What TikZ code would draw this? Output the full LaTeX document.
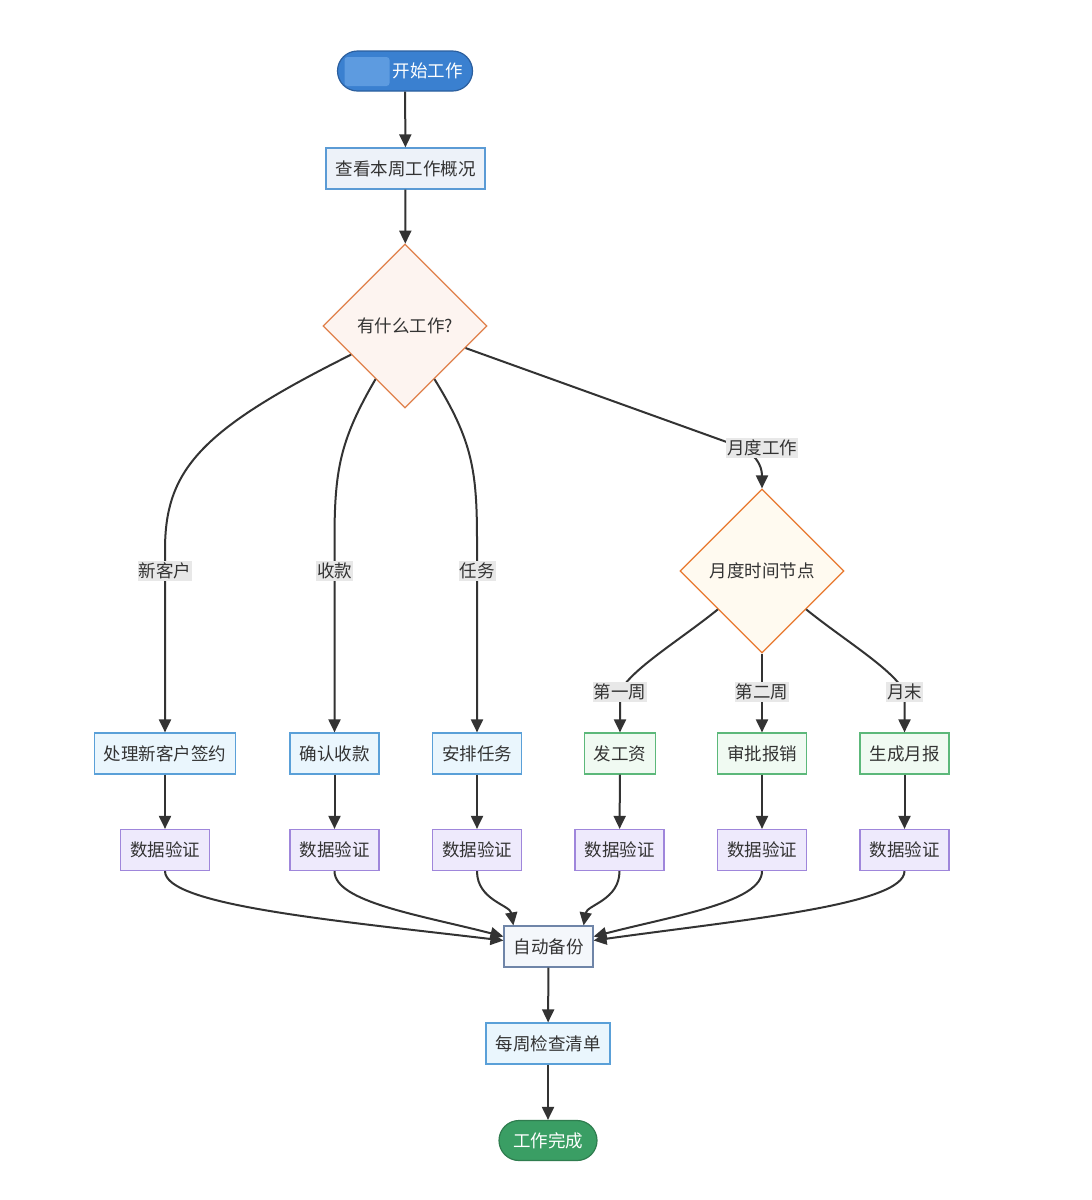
\documentclass[tikz,border=0pt]{standalone}
\usepackage{fontspec}
\setmainfont{Noto Sans CJK SC}
\usetikzlibrary{shapes.geometric,arrows.meta}
\definecolor{txt}{HTML}{333333}
\definecolor{lc}{HTML}{333333}
\definecolor{startfill}{HTML}{3A80D0}
\definecolor{startbord}{HTML}{2C5F9E}
\definecolor{patch}{HTML}{5D9BE0}
\definecolor{endfill}{HTML}{3A9E64}
\definecolor{endbord}{HTML}{2F7D4F}
\definecolor{ovfill}{HTML}{EDF2F9}
\definecolor{ovbord}{HTML}{5B9BD5}
\definecolor{bfill}{HTML}{EAF6FD}
\definecolor{bbord}{HTML}{5AA0D8}
\definecolor{gfill}{HTML}{F0FAF2}
\definecolor{gbord}{HTML}{5CB87A}
\definecolor{vfill}{HTML}{EEEAFC}
\definecolor{vbord}{HTML}{9F86DB}
\definecolor{abfill}{HTML}{F4F7FB}
\definecolor{abbord}{HTML}{6F85A8}
\definecolor{d1fill}{HTML}{FDF4F0}
\definecolor{d1bord}{HTML}{E0804A}
\definecolor{d2fill}{HTML}{FFFAF0}
\definecolor{d2bord}{HTML}{E8782E}
\definecolor{lblbg}{HTML}{E8E8E8}
\begin{document}
\begin{tikzpicture}[x=1pt,y=-1pt,
  base/.style={font=\fontsize{17.5}{20}\selectfont, text=txt, line width=1.2pt,
    minimum height=41pt, inner xsep=9.5pt, inner ysep=0pt},
  ovbox/.style={base, draw=ovbord, fill=ovfill},
  bluebox/.style={base, draw=bbord, fill=bfill},
  greenbox/.style={base, draw=gbord, fill=gfill},
  violetbox/.style={base, draw=vbord, fill=vfill},
  abbox/.style={base, draw=abbord, fill=abfill},
  pill/.style={base, rounded corners=20pt, minimum height=40pt, text=white},
  decision/.style={shape=diamond, aspect=1, minimum width=164pt, minimum height=164pt,
    inner sep=0pt, line width=1.2pt, font=\fontsize{17.5}{20}\selectfont, text=txt},
  conn/.style={draw=lc, line width=2pt, -{Triangle[length=13pt,width=12pt]}},
  lbl/.style={fill=lblbg, text=txt, font=\fontsize{17.5}{20}\selectfont, inner xsep=1pt, inner ysep=2pt},
]
\useasboundingbox[fill=white] (0,0) rectangle (1092,1200);

% nodes
\node[pill, draw=startbord, fill=startfill, minimum width=135pt] (start) at (405,71) {\hspace*{45pt}开始工作};
\node[fill=patch, minimum width=45pt, minimum height=29pt, inner sep=0pt, rounded corners=3pt] (blur) at (367,71.5) {};
\node[ovbox] (ov) at (405.5,168.5) {查看本周工作概况};
\node[decision, draw=d1bord, fill=d1fill] (q) at (405,326) {有什么工作?};
\node[decision, draw=d2bord, fill=d2fill] (m) at (762,571) {月度时间节点};

\node[bluebox] (a1) at (165,753.5) {处理新客户签约};
\node[bluebox] (a2) at (334.5,753.5) {确认收款};
\node[bluebox] (a3) at (477,753.5) {安排任务};
\node[greenbox] (a4) at (620,753.5) {发工资};
\node[greenbox] (a5) at (762,753.5) {审批报销};
\node[greenbox] (a6) at (904.5,753.5) {生成月报};

\node[violetbox] (v1) at (165,850) {数据验证};
\node[violetbox] (v2) at (334.5,850) {数据验证};
\node[violetbox] (v3) at (477,850) {数据验证};
\node[violetbox] (v4) at (619.5,850) {数据验证};
\node[violetbox] (v5) at (762,850) {数据验证};
\node[violetbox] (v6) at (904.5,850) {数据验证};

\node[abbox] (ab) at (548.5,946.5) {自动备份};
\node[bluebox] (wk) at (548,1043.5) {每周检查清单};
\node[pill, draw=endbord, fill=endfill, minimum width=98pt] (fin) at (548,1140.5) {工作完成};

% connectors
\draw[conn] (start) -- (ov);
\draw[conn] (ov) -- (q);

\draw[conn] (q.208) .. controls (200,430) and (165,470) .. (165,550)
  -- (165,571) node[lbl] (l1) {新客户} -- (a1);
\draw[conn] (q.241) .. controls (340,440) and (334.5,470) .. (334.5,540)
  -- (334.5,571) node[lbl] (l2) {收款} -- (a2);
\draw[conn] (q.299) .. controls (472,440) and (477,470) .. (477,540)
  -- (477,571) node[lbl] (l3) {任务} -- (a3);
\draw[conn] (q.340) -- (735,445) node[lbl] (l4) at (762,448) {月度工作}
  .. controls (755,452) and (762,465) .. (m.north);

\draw[conn] (m.221) .. controls (680,640) and (630,670) .. (620,692)
  node[lbl] (l5) {第一周} -- (a4);
\draw[conn] (m.south) -- (762,692) node[lbl] (l6) {第二周} -- (a5);
\draw[conn] (m.319) .. controls (844,640) and (894,670) .. (904.5,692)
  node[lbl] (l7) {月末} -- (a6);

\draw[conn] (a1) -- (v1);
\draw[conn] (a2) -- (v2);
\draw[conn] (a3) -- (v3);
\draw[conn] (a4) -- (v4);
\draw[conn] (a5) -- (v5);
\draw[conn] (a6) -- (v6);

\draw[conn] (v1.south) .. controls (165,905) and (330,920) .. ([yshift=6pt]ab.west);
\draw[conn] (v2.south) .. controls (334.5,902) and (420,915) .. ([yshift=10pt]ab.west);
\draw[conn] (v3.south) .. controls (477,900) and (510,905) .. ([xshift=10pt]ab.north west);
\draw[conn] (v4.south) .. controls (619.5,900) and (587,905) .. ([xshift=-10pt]ab.north east);
\draw[conn] (v5.south) .. controls (762,902) and (677,915) .. ([yshift=10pt]ab.east);
\draw[conn] (v6.south) .. controls (904.5,905) and (740,920) .. ([yshift=6pt]ab.east);

\draw[conn] (ab) -- (wk);
\draw[conn] (wk) -- (fin);
\end{tikzpicture}
\end{document}
